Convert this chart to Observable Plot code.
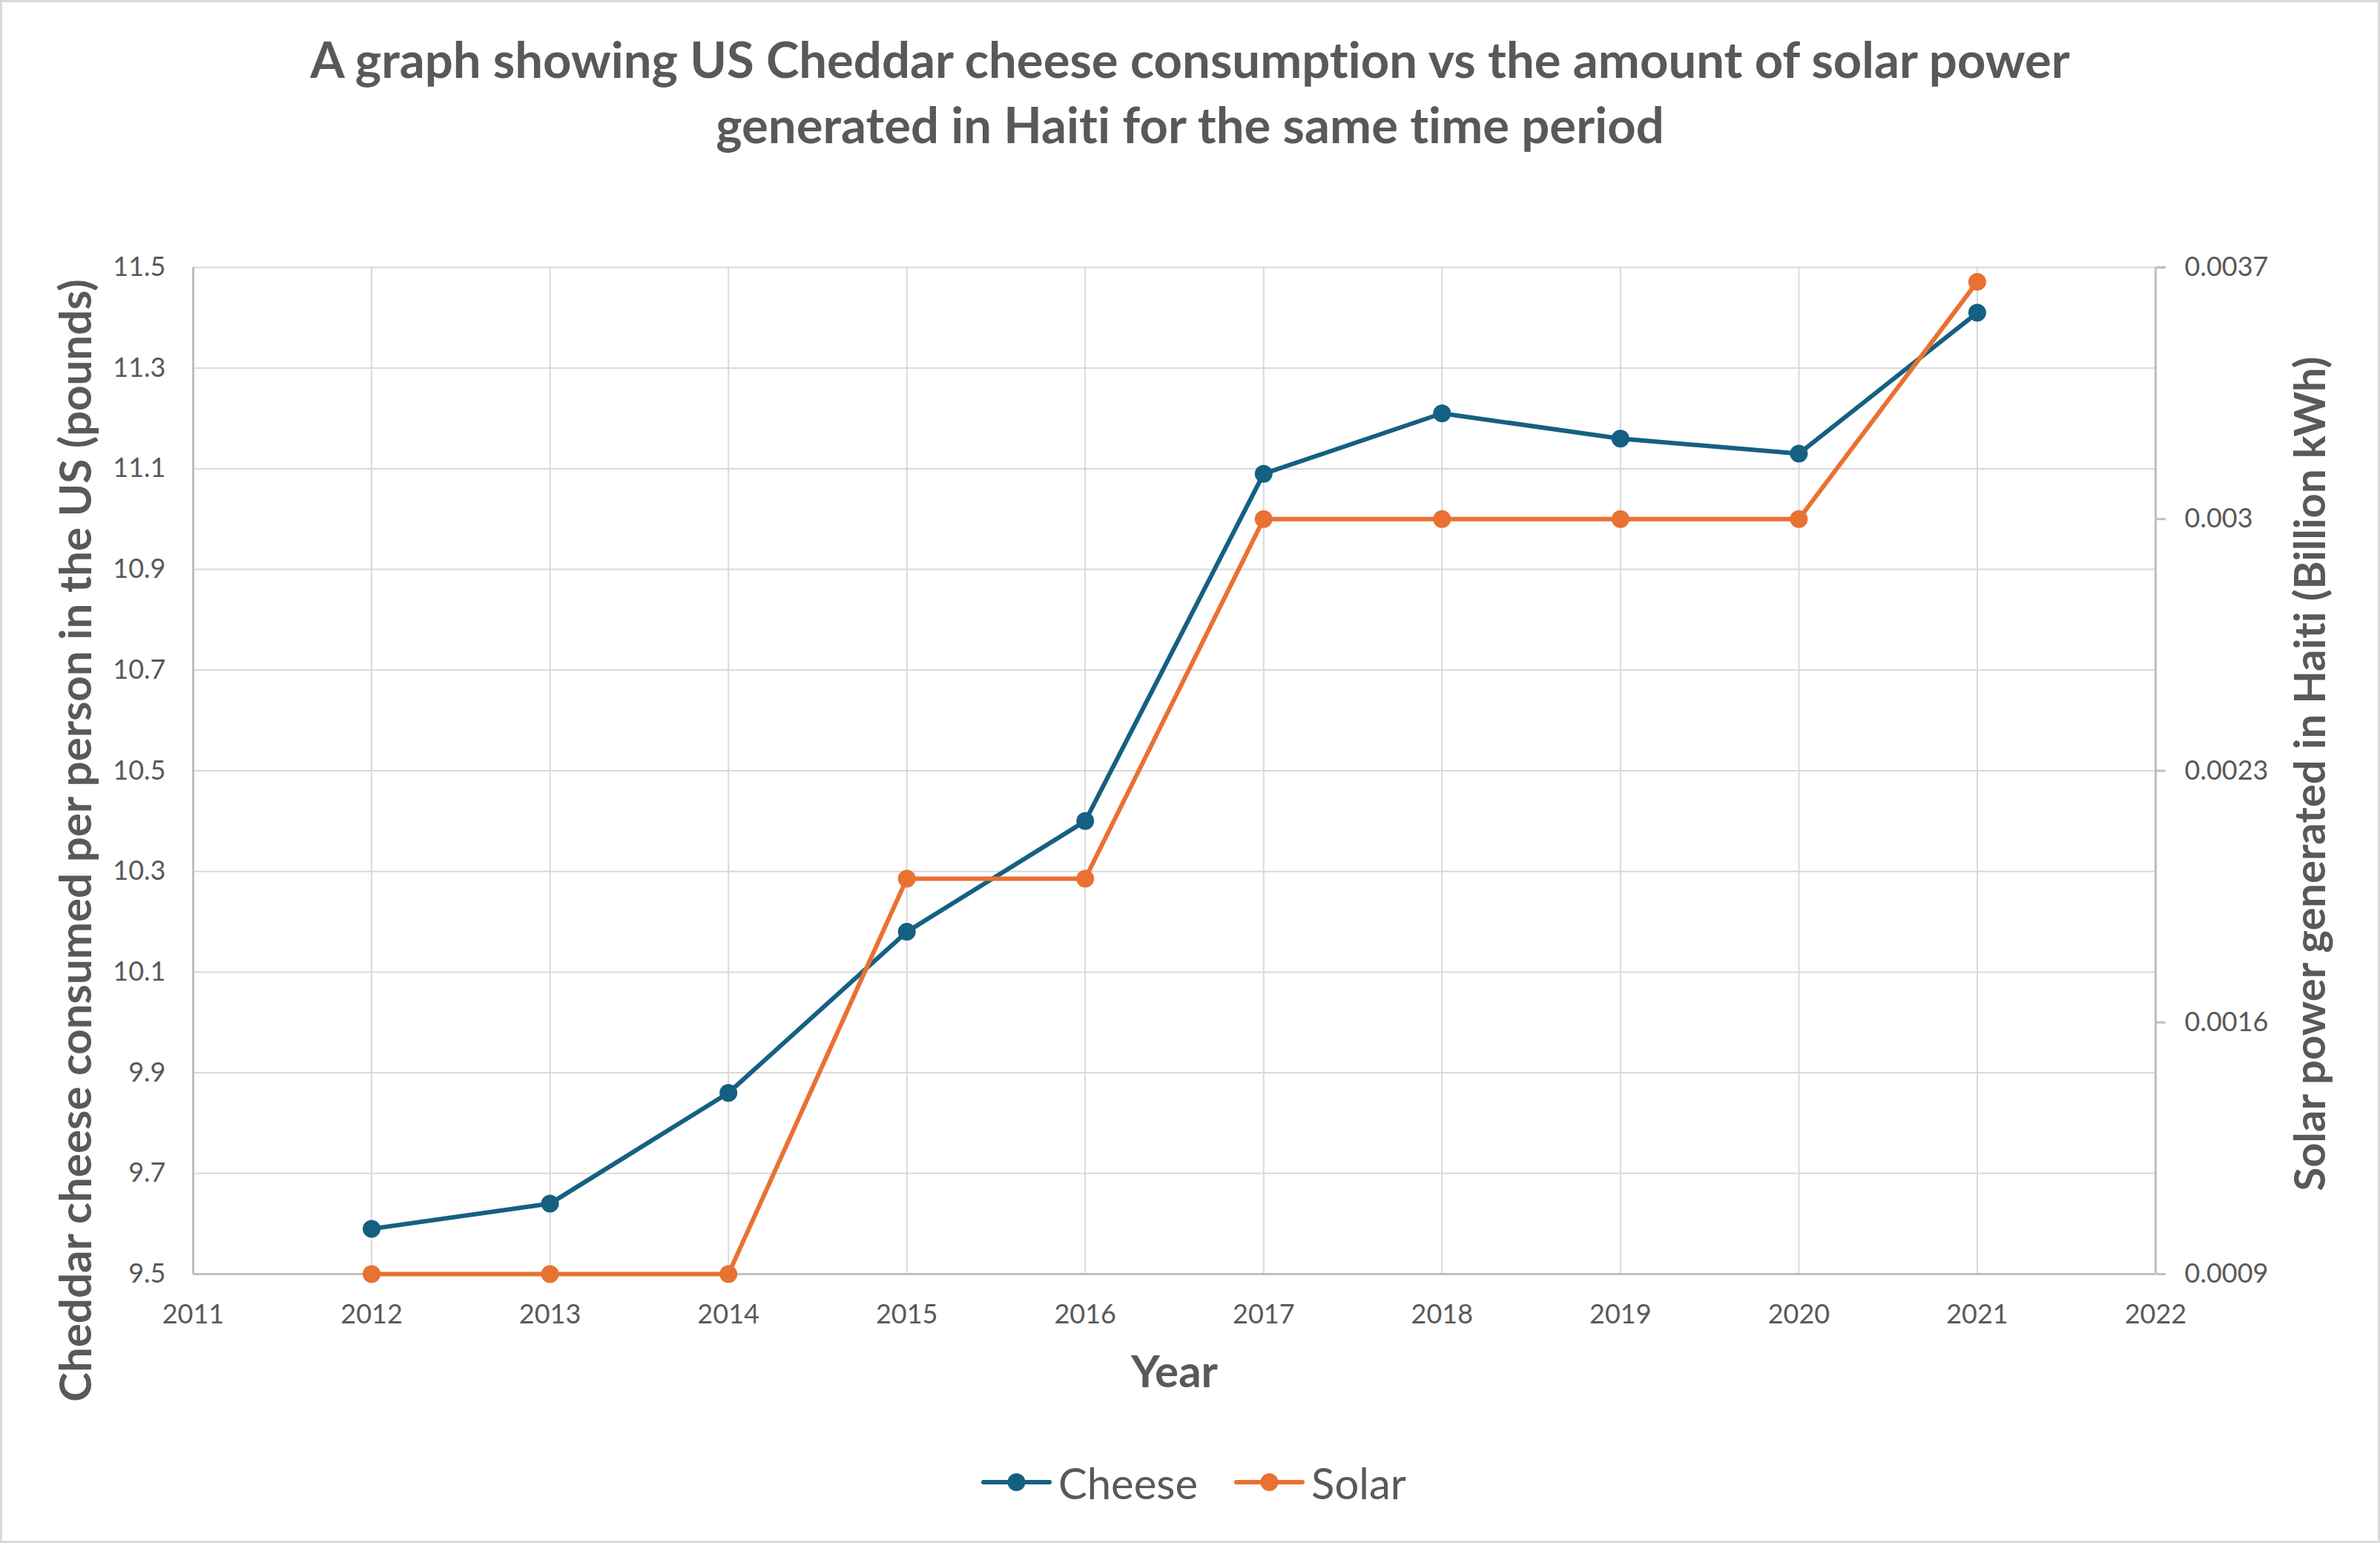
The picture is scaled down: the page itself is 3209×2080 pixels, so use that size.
<!DOCTYPE html>
<html>
<head>
<meta charset="utf-8">
<script src="https://cdn.jsdelivr.net/npm/d3@7"></script>
<script src="https://cdn.jsdelivr.net/npm/@observablehq/plot@0.6"></script>
<style>
html, body { margin: 0; padding: 0; background: #fff; }
#wrap { position: relative; width: 3209px; height: 2080px; overflow: hidden; background: #fff; font-family: Lato, sans-serif; color: #595959; font-variant-ligatures: none; }
#wrap svg text { font-variant-ligatures: none; }
#frame { position: absolute; left: 0; top: 0; width: 3209px; height: 2080px; box-sizing: border-box; border: 3px solid #d9d9d9; pointer-events: none; }
#title { position: absolute; left: 0; top: 35px; width: 3209px; text-align: center; font-weight: 700; font-size: 67px; line-height: 88px; }
#chart { position: absolute; left: 0; top: 250px; }
#legend { position: absolute; left: 1323px; top: 1958px; height: 80px; display: flex; align-items: center; font-size: 58px; white-space: nowrap; }
.item { display: flex; align-items: center; }
.item svg { display: block; margin-right: 9px; }
</style>
</head>
<body>
<div id="wrap">
  <div id="title"></div>
  <div id="chart"></div>
  <div id="legend"></div>
  <div id="frame"></div>
</div>
<script>
// ---- data ----
const titleLines = ["A graph showing US Cheddar cheese consumption vs the amount of solar power", "generated in Haiti for the same time period"];
const years = [2012, 2013, 2014, 2015, 2016, 2017, 2018, 2019, 2020, 2021];
const cheese = [9.59, 9.64, 9.86, 10.18, 10.40, 11.09, 11.21, 11.16, 11.13, 11.41];
const solar = [0.0009, 0.0009, 0.0009, 0.002, 0.002, 0.003, 0.003, 0.003, 0.003, 0.00366];
const xTicks = [2011, 2012, 2013, 2014, 2015, 2016, 2017, 2018, 2019, 2020, 2021, 2022];
const cheeseTicks = [9.5, 9.7, 9.9, 10.1, 10.3, 10.5, 10.7, 10.9, 11.1, 11.3, 11.5];
const cheeseTickLabels = ["9.5", "9.7", "9.9", "10.1", "10.3", "10.5", "10.7", "10.9", "11.1", "11.3", "11.5"];
const solarTicks = [0.0009, 0.0016, 0.0023, 0.003, 0.0037];
const solarTickLabels = ["0.0009", "0.0016", "0.0023", "0.003", "0.0037"];
const seriesNames = ["Cheese", "Solar"];
const seriesColors = ["#156082", "#E97132"];
const xLabel = "Year";
const yLabelLeft = "Cheddar cheese consumed per person in the US (pounds)";
const yLabelRight = "Solar power generated in Haiti (Billion kWh)";

// ---- derived ----
const toLeft = d3.scaleLinear([solarTicks[0], solarTicks[solarTicks.length - 1]], [cheeseTicks[0], cheeseTicks[cheeseTicks.length - 1]]);
const cheeseData = years.map((year, i) => ({year, value: cheese[i]}));
const solarData = years.map((year, i) => ({year, value: toLeft(solar[i])}));

const textColor = "#595959";
const gridColor = "#d9d9d9";
const axisColor = "#bfbfbf";

document.getElementById("title").innerHTML = titleLines.join("<br>");

const chart = Plot.plot({
  width: 3209,
  height: 1650,
  marginTop: 110,
  marginBottom: 183,
  marginLeft: 260,
  marginRight: 303,
  style: {fontFamily: "Lato, sans-serif", fontSize: "36px", color: textColor, background: "transparent", maxWidth: "none", overflow: "visible"},
  x: {domain: [xTicks[0], xTicks[xTicks.length - 1]]},
  y: {domain: [cheeseTicks[0], cheeseTicks[cheeseTicks.length - 1]]},
  marks: [
    Plot.gridX(xTicks, {stroke: gridColor, strokeOpacity: 1, strokeWidth: 2}),
    Plot.gridY(cheeseTicks, {stroke: gridColor, strokeOpacity: 1, strokeWidth: 2}),
    Plot.axisX(xTicks, {tickSize: 0, tickPadding: 41, tickFormat: d => String(d), label: null}),
    Plot.axisY(cheeseTicks, {anchor: "left", tickSize: 0, tickPadding: 37, tickFormat: d => cheeseTickLabels[cheeseTicks.indexOf(d)], label: null}),
    Plot.axisY(solarTicks.map(toLeft), {anchor: "right", tickSize: 13, tickPadding: 26, stroke: axisColor, strokeWidth: 3,
      tickFormat: d => solarTickLabels[solarTicks.findIndex(t => Math.abs(toLeft(t) - d) < 1e-6)], label: null}),
    Plot.ruleX([xTicks[0]], {stroke: axisColor, strokeWidth: 3}),
    Plot.ruleX([xTicks[xTicks.length - 1]], {stroke: axisColor, strokeWidth: 3}),
    Plot.ruleY([cheeseTicks[0]], {stroke: axisColor, strokeWidth: 3}),
    Plot.line(cheeseData, {x: "year", y: "value", stroke: seriesColors[0], strokeWidth: 6, strokeLinejoin: "round"}),
    Plot.dot(cheeseData, {x: "year", y: "value", r: 12, fill: seriesColors[0]}),
    Plot.line(solarData, {x: "year", y: "value", stroke: seriesColors[1], strokeWidth: 6, strokeLinejoin: "round"}),
    Plot.dot(solarData, {x: "year", y: "value", r: 12, fill: seriesColors[1]}),
    Plot.text([xLabel], {text: d => d, frameAnchor: "bottom", textAnchor: "middle", lineAnchor: "middle", dy: 133, fontSize: 60, fontWeight: 700, fill: textColor}),
    Plot.text([yLabelLeft], {text: d => d, frameAnchor: "left", textAnchor: "middle", lineAnchor: "middle", dx: -157, dy: 94, rotate: -90, fontSize: 60, fontWeight: 700, fill: textColor}),
    Plot.text([yLabelRight], {text: d => d, frameAnchor: "right", textAnchor: "middle", lineAnchor: "middle", dx: 210, dy: 4, rotate: -90, fontSize: 58, fontWeight: 700, fill: textColor})
  ]
});
document.getElementById("chart").appendChild(chart);

// ---- legend ----
const legend = document.getElementById("legend");
seriesNames.forEach((name, i) => {
  const item = document.createElement("div");
  item.className = "item";
  if (i > 0) item.style.marginLeft = "49px";
  item.innerHTML = `<svg width="95" height="30" viewBox="0 0 95 30"><line x1="3" y1="15" x2="92" y2="15" stroke="${seriesColors[i]}" stroke-width="6" stroke-linecap="round"/><circle cx="47.5" cy="15" r="12" fill="${seriesColors[i]}"/></svg><span>${name}</span>`;
  legend.appendChild(item);
});
</script>
</body>
</html>
